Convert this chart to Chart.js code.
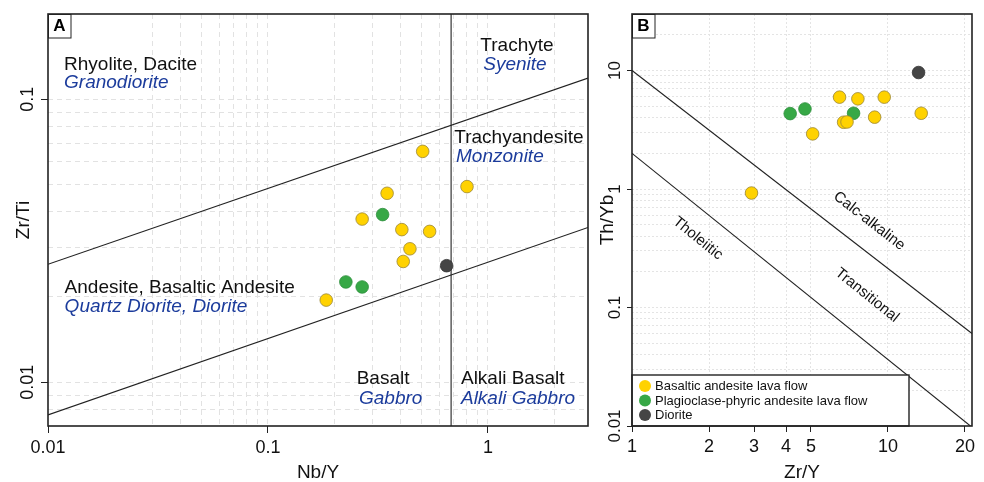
<!DOCTYPE html>
<html>
<head>
<meta charset="utf-8">
<script src="https://cdn.jsdelivr.net/npm/chart.js@4.4.1/dist/chart.umd.min.js"></script>
<style>
  html, body { margin: 0; padding: 0; background: #fff; }
  #wrap { position: relative; width: 984px; height: 482px; }
  canvas { position: absolute; left: 0; top: 0; }
</style>
</head>
<body>
<div id="wrap">
  <canvas id="chartA" width="984" height="482"></canvas>
  <canvas id="chartB" width="984" height="482"></canvas>
</div>
<script>
const FONT = '"Liberation Sans", Arial, Helvetica, sans-serif';

// ---- Panel A: Zr/Ti vs Nb/Y ----
const nbYBasaltic = [0.505, 0.803, 0.348, 0.268, 0.406, 0.543, 0.442, 0.412, 0.184];
const zrTiBasaltic = [0.0654, 0.0491, 0.0465, 0.0377, 0.0346, 0.0341, 0.0296, 0.0267, 0.0195];
const nbYPlag = [0.332, 0.226, 0.268];
const zrTiPlag = [0.0391, 0.0226, 0.0217];
const nbYDiorite = [0.649];
const zrTiDiorite = [0.0258];

// field boundaries (Nb/Y, Zr/Ti)
const upperA = { x: [0.01, 2.85], y: [0.0261, 0.1187] };
const lowerA = { x: [0.01, 2.85], y: [0.00766, 0.0352] };
const alkaliA = { x: [0.68, 0.68], y: [0.007, 0.2] };

const xLabelsA = [0.01, 0.1, 1];
const xGridA = [0.03, 0.04, 0.05, 0.06, 0.07, 0.08, 0.09, 0.1, 0.2, 0.3, 0.4, 0.5, 0.6, 0.7, 0.8, 0.9, 1, 2];
const yLabelsA = [0.01, 0.1];
const yGridA = [0.008, 0.009, 0.01, 0.02, 0.03, 0.04, 0.05, 0.06, 0.07, 0.08, 0.09, 0.1];

// ---- Panel B: Th/Yb vs Zr/Y ----
const zrYBasaltic = [6.47, 7.63, 9.67, 13.49, 8.87, 6.71, 6.92, 5.08, 2.93];
const thYbBasaltic = [5.96, 5.77, 5.96, 4.36, 4.04, 3.66, 3.68, 2.92, 0.925];
const zrYPlag = [4.15, 4.74, 7.34];
const thYbPlag = [4.33, 4.74, 4.36];
const zrYDiorite = [13.17];
const thYbDiorite = [9.62];

const calcAlkB = { x: [1, 21.3], y: [10, 0.0603] };
const tholB = { x: [1, 21], y: [2, 0.01] };

const xLabelsB = [1, 2, 3, 4, 5, 10, 20];
const xGridB = [2, 3, 4, 5, 10, 20];
const yLabelsB = [0.01, 0.1, 1, 10];
const yGridB = [0.02, 0.03, 0.04, 0.05, 0.06, 0.07, 0.08, 0.09, 0.1,
  0.2, 0.3, 0.4, 0.5, 0.6, 0.7, 0.8, 0.9, 1, 2, 3, 4, 5, 6, 7, 8, 9, 10, 20];

const seriesNames = ['Basaltic andesite lava flow', 'Plagioclase-phyric andesite lava flow', 'Diorite'];
const seriesFill = ['#ffd200', '#37a846', '#454545'];
const seriesEdge = ['#9a8638', '#2f8f3d', '#333333'];

function pts(xs, ys) {
  return xs.map((x, i) => ({ x: x, y: ys[i] }));
}

function near(a, b) {
  return Math.abs(a - b) < 1e-9 * Math.max(1, b);
}

function buildTicks(labels, grid) {
  const all = Array.from(new Set(labels.concat(grid))).sort((a, b) => a - b);
  return all.map(v => ({
    value: v,
    isLabel: labels.some(l => near(l, v)),
    isGrid: grid.some(g => near(g, v))
  }));
}

function pointSets(groups) {
  return groups.map((g, i) => ({
    label: seriesNames[i],
    data: pts(g[0], g[1]),
    backgroundColor: seriesFill[i],
    borderColor: seriesEdge[i],
    borderWidth: 0.8,
    pointRadius: 6.3
  }));
}

function lineSet(seg) {
  return {
    data: pts(seg.x, seg.y),
    showLine: true,
    pointRadius: 0,
    borderColor: '#222',
    borderWidth: 1.1,
    fill: false
  };
}

function logAxis(o) {
  return {
    type: 'logarithmic',
    position: o.position,
    min: o.min,
    max: o.max,
    bounds: 'data',
    afterBuildTicks: s => { s.ticks = buildTicks(o.labels, o.grid); },
    afterFit: s => {
      if (o.position === 'left') {
        s.width = o.size; s.paddingTop = 0; s.paddingBottom = 0;
      } else {
        s.height = o.size; s.paddingLeft = 0; s.paddingRight = 0;
      }
    },
    ticks: {
      autoSkip: false,
      color: '#111',
      font: { family: FONT, size: o.tickSize },
      padding: o.tickPad,
      minRotation: o.position === 'left' ? 90 : 0,
      maxRotation: o.position === 'left' ? 90 : 0,
      crossAlign: 'center',
      callback: (v, i, ticks) => ticks[i].isLabel ? String(v) : ''
    },
    grid: {
      color: c => (c.tick && c.tick.isGrid) ? o.gridColor : 'rgba(0,0,0,0)',
      tickColor: c => (c.tick && c.tick.isLabel) ? '#222' : 'rgba(0,0,0,0)',
      tickLength: o.tickLen,
      tickWidth: 1,
      lineWidth: 1,
      borderDash: o.dash
    },
    border: { display: false, dash: o.dash },
    title: {
      display: true,
      text: o.title,
      color: '#111',
      font: { family: FONT, size: 19 },
      padding: o.titlePad
    }
  };
}

// draws the plot frame and the panel tag
function framePlugin(tag) {
  return {
    id: 'frame' + tag,
    afterDraw(chart) {
      const { ctx, chartArea: a } = chart;
      ctx.save();
      ctx.strokeStyle = '#222';
      ctx.lineWidth = 1.6;
      ctx.strokeRect(a.left, a.top, a.right - a.left, a.bottom - a.top);
      ctx.fillStyle = '#fff';
      ctx.fillRect(a.left, a.top, 23, 24);
      ctx.lineWidth = 1;
      ctx.strokeRect(a.left + 0.5, a.top + 0.5, 22.5, 23.5);
      ctx.fillStyle = '#000';
      ctx.font = 'bold 17px ' + FONT;
      ctx.textAlign = 'center';
      ctx.textBaseline = 'middle';
      ctx.fillText(tag, a.left + 11.5, a.top + 12.5);
      ctx.restore();
    }
  };
}

// rock-type field names, anchored in data units
const fieldNamesA = [
  { t: 'Rhyolite, Dacite', x: 0.01183, y: 0.1267, al: 'left', blue: false },
  { t: 'Granodiorite', x: 0.01183, y: 0.1091, al: 'left', blue: true },
  { t: 'Trachyte', x: 1.355, y: 0.1484, al: 'center', blue: false },
  { t: 'Syenite', x: 1.327, y: 0.127, al: 'center', blue: true },
  { t: 'Trachyandesite', x: 0.703, y: 0.0698, al: 'left', blue: false },
  { t: 'Monzonite', x: 0.716, y: 0.0599, al: 'left', blue: true },
  { t: 'Andesite, Basaltic Andesite', x: 0.0119, y: 0.0206, al: 'left', blue: false },
  { t: 'Quartz Diorite, Diorite', x: 0.0119, y: 0.01772, al: 'left', blue: true },
  { t: 'Basalt', x: 0.253, y: 0.00982, al: 'left', blue: false },
  { t: 'Gabbro', x: 0.2593, y: 0.00838, al: 'left', blue: true },
  { t: 'Alkali Basalt', x: 0.754, y: 0.00982, al: 'left', blue: false },
  { t: 'Alkali Gabbro', x: 0.754, y: 0.00838, al: 'left', blue: true }
];

const namesAPlugin = {
  id: 'namesA',
  afterDatasetsDraw(chart) {
    const { ctx, scales } = chart;
    ctx.save();
    ctx.textBaseline = 'alphabetic';
    fieldNamesA.forEach(n => {
      ctx.font = (n.blue ? 'italic ' : '') + '19px ' + FONT;
      ctx.fillStyle = n.blue ? '#1c3c9c' : '#111';
      ctx.textAlign = n.al;
      ctx.fillText(n.t, scales.x.getPixelForValue(n.x), scales.y.getPixelForValue(n.y));
    });
    ctx.restore();
  }
};

const seriesNamesB = [
  { t: 'Calc-alkaline', x: 8.45, y: 0.536, seg: calcAlkB },
  { t: 'Tholeiitic', x: 1.807, y: 0.383, seg: tholB },
  { t: 'Transitional', x: 8.28, y: 0.127, seg: tholB }
];

const namesBPlugin = {
  id: 'namesB',
  afterDatasetsDraw(chart) {
    const { ctx, scales, chartArea: a } = chart;
    ctx.save();
    ctx.font = '15px ' + FONT;
    ctx.fillStyle = '#111';
    ctx.textAlign = 'center';
    ctx.textBaseline = 'middle';
    seriesNamesB.forEach(n => {
      const x1 = scales.x.getPixelForValue(n.seg.x[0]), y1 = scales.y.getPixelForValue(n.seg.y[0]);
      const x2 = scales.x.getPixelForValue(n.seg.x[1]), y2 = scales.y.getPixelForValue(n.seg.y[1]);
      ctx.save();
      ctx.translate(scales.x.getPixelForValue(n.x), scales.y.getPixelForValue(n.y));
      ctx.rotate(Math.atan2(y2 - y1, x2 - x1));
      ctx.fillText(n.t, 0, 0);
      ctx.restore();
    });

    // legend box in the lower-left corner
    const w = 277, h = 51;
    const x0 = a.left, y0 = a.bottom - h;
    ctx.fillStyle = '#fff';
    ctx.fillRect(x0, y0, w, h);
    ctx.strokeStyle = '#222';
    ctx.lineWidth = 1.4;
    ctx.strokeRect(x0, y0, w, h);
    ctx.font = '13px ' + FONT;
    ctx.textAlign = 'left';
    chart.data.datasets.slice(0, 3).forEach((ds, i) => {
      const cy = y0 + 11 + i * 14.5;
      ctx.beginPath();
      ctx.arc(x0 + 13, cy, 6, 0, Math.PI * 2);
      ctx.fillStyle = ds.backgroundColor;
      ctx.fill();
      ctx.fillStyle = '#111';
      ctx.fillText(ds.label, x0 + 23, cy + 0.5);
    });
    ctx.restore();
  }
};

const common = {
  responsive: false,
  animation: false,
  events: [],
  plugins: { legend: { display: false }, tooltip: { enabled: false } }
};

new Chart(document.getElementById('chartA'), {
  type: 'scatter',
  data: {
    datasets: pointSets([[nbYBasaltic, zrTiBasaltic], [nbYPlag, zrTiPlag], [nbYDiorite, zrTiDiorite]])
      .concat([lineSet(upperA), lineSet(lowerA), lineSet(alkaliA)])
  },
  options: Object.assign({}, common, {
    layout: { autoPadding: false, padding: { left: 0, top: 14, right: 396, bottom: 0 } },
    scales: {
      x: logAxis({ position: 'bottom', min: 0.01, max: 2.85, labels: xLabelsA, grid: xGridA,
        size: 56, tickSize: 18, tickPad: 15, tickLen: 7, gridColor: '#e2e2e2', dash: [5, 4],
        title: 'Nb/Y', titlePad: { top: 0, bottom: -2 } }),
      y: logAxis({ position: 'left', min: 0.007, max: 0.2, labels: yLabelsA, grid: yGridA,
        size: 48, tickSize: 18, tickPad: -5, tickLen: 7, gridColor: '#e2e2e2', dash: [5, 4],
        title: 'Zr/Ti', titlePad: { top: 12, bottom: 0 } })
    }
  }),
  plugins: [namesAPlugin, framePlugin('A')]
});

new Chart(document.getElementById('chartB'), {
  type: 'scatter',
  data: {
    datasets: pointSets([[zrYBasaltic, thYbBasaltic], [zrYPlag, thYbPlag], [zrYDiorite, thYbDiorite]])
      .concat([lineSet(calcAlkB), lineSet(tholB)])
  },
  options: Object.assign({}, common, {
    layout: { autoPadding: false, padding: { left: 590, top: 14, right: 12, bottom: 0 } },
    scales: {
      x: logAxis({ position: 'bottom', min: 1, max: 21.3, labels: xLabelsB, grid: xGridB,
        size: 56, tickSize: 18, tickPad: 15, tickLen: 6, gridColor: '#e4e4e4', dash: [2, 2],
        title: 'Zr/Y', titlePad: { top: 0, bottom: -2 } }),
      y: logAxis({ position: 'left', min: 0.01, max: 30, labels: yLabelsB, grid: yGridB,
        size: 42, tickSize: 17, tickPad: -5, tickLen: 5, gridColor: '#e4e4e4', dash: [2, 2],
        title: 'Th/Yb', titlePad: { top: 6, bottom: 0 } })
    }
  }),
  plugins: [namesBPlugin, framePlugin('B')]
});
</script>
</body>
</html>
